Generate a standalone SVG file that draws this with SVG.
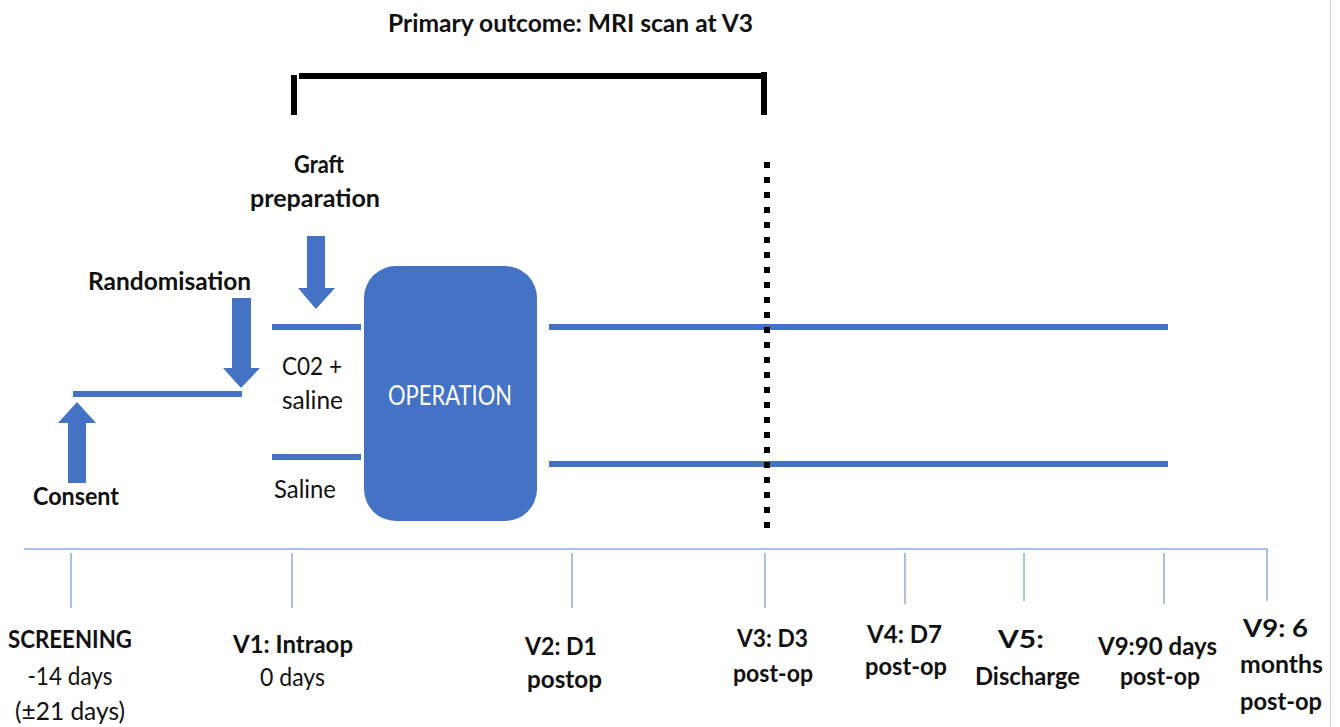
<svg xmlns="http://www.w3.org/2000/svg" width="1340" height="727" viewBox="0 0 1340 727">
<style>
.t{font-family:Lato,"Open Sans","Liberation Sans",sans-serif;font-size:25px;fill:#111;text-anchor:middle}
.b{font-weight:bold}
.blue{fill:#4472C4}
.arm{stroke:#4472C4;stroke-width:6;fill:none}
.axis{stroke:#A9C1E8;stroke-width:2;fill:none}
.brk{stroke:#000;stroke-width:6;fill:none}
</style>
<rect width="1340" height="727" fill="#fff"/>
<line x1="1330.5" y1="0" x2="1330.5" y2="727" stroke="#d0d0d0" stroke-width="1"/>

<g id="title">
<text class="t b" x="570.5" y="32" textLength="365" lengthAdjust="spacingAndGlyphs">Primary outcome: MRI scan at V3</text>
</g>
<g id="bracket">
<line class="brk" x1="294" y1="75" x2="294" y2="115"/>
<line class="brk" x1="299" y1="76" x2="767" y2="76"/>
<line class="brk" x1="764" y1="72" x2="764" y2="115"/>
</g>

<g id="connectors">
<line class="arm" x1="73" y1="394" x2="242" y2="394"/>
<line class="arm" x1="272" y1="327" x2="361" y2="327"/>
<line class="arm" x1="272" y1="457" x2="361" y2="457"/>
<line class="arm" x1="549" y1="327" x2="1168" y2="327"/>
<line class="arm" x1="549" y1="464" x2="1168" y2="464"/>
<line x1="767" y1="162" x2="767" y2="536" stroke="#000" stroke-width="6" stroke-dasharray="6 9"/>
</g>

<g id="consent">
<polygon class="blue" points="77,402 96,423 86,423 86,483 68,483 68,423 58,423"/>
<text class="t b" x="76" y="505" textLength="86" lengthAdjust="spacingAndGlyphs">Consent</text>
</g>
<g id="randomisation">
<polygon class="blue" points="232,298 251,298 251,368 260,368 241,388 223,368 232,368"/>
<text class="t b" x="169.5" y="290" textLength="163" lengthAdjust="spacingAndGlyphs">Randomisation</text>
</g>
<g id="graft">
<polygon class="blue" points="307,236 325,236 325,288 335,288 316,309 298,288 307,288"/>
<text class="t b" x="319" y="173" textLength="50" lengthAdjust="spacingAndGlyphs">Graft</text>
<text class="t b" x="315" y="207" textLength="130" lengthAdjust="spacingAndGlyphs">preparation</text>
</g>
<g id="arm-co2">
<text class="t" x="312" y="375" textLength="60" lengthAdjust="spacingAndGlyphs">C02 +</text>
<text class="t" x="312.5" y="409" textLength="61" lengthAdjust="spacingAndGlyphs">saline</text>
</g>
<g id="arm-saline">
<text class="t" x="305" y="498" textLength="62" lengthAdjust="spacingAndGlyphs">Saline</text>
</g>
<g id="operation">
<rect class="blue" x="364" y="266" width="173" height="255" rx="32" ry="32"/>
<text class="t" x="450" y="405" style="fill:#fff;font-size:26px" textLength="124" lengthAdjust="spacingAndGlyphs">OPERATION</text>
</g>

<g id="timeline">
<line class="axis" x1="24" y1="549" x2="1267" y2="549"/>
<line class="axis" x1="71" y1="553" x2="71" y2="608"/>
<line class="axis" x1="292" y1="553" x2="292" y2="608"/>
<line class="axis" x1="572" y1="553" x2="572" y2="608"/>
<line class="axis" x1="765" y1="553" x2="765" y2="608"/>
<line class="axis" x1="905" y1="553" x2="905" y2="604"/>
<line class="axis" x1="1024" y1="553" x2="1024" y2="601"/>
<line class="axis" x1="1164" y1="553" x2="1164" y2="604"/>
<line class="axis" x1="1267" y1="548" x2="1267" y2="601"/>
</g>

<g id="screening">
<text class="t b" x="70" y="648" textLength="124" lengthAdjust="spacingAndGlyphs">SCREENING</text>
<text class="t" x="70" y="685" textLength="85" lengthAdjust="spacingAndGlyphs">-14 days</text>
<text class="t" x="70" y="720" textLength="110" lengthAdjust="spacingAndGlyphs">(±21 days)</text>
</g>
<g id="v1">
<text class="t b" x="293" y="653" textLength="120" lengthAdjust="spacingAndGlyphs">V1: Intraop</text>
<text class="t" x="292.5" y="686" textLength="65" lengthAdjust="spacingAndGlyphs">0 days</text>
</g>
<g id="v2">
<text class="t b" x="561" y="655" textLength="72" lengthAdjust="spacingAndGlyphs">V2: D1</text>
<text class="t b" x="564.5" y="688" textLength="75" lengthAdjust="spacingAndGlyphs">postop</text>
</g>
<g id="v3">
<text class="t b" x="772.5" y="647" textLength="71" lengthAdjust="spacingAndGlyphs">V3: D3</text>
<text class="t b" x="773" y="682" textLength="80" lengthAdjust="spacingAndGlyphs">post-op</text>
</g>
<g id="v4">
<text class="t b" x="904.5" y="643" textLength="75" lengthAdjust="spacingAndGlyphs">V4: D7</text>
<text class="t b" x="906" y="675" textLength="82" lengthAdjust="spacingAndGlyphs">post-op</text>
</g>
<g id="v5">
<text class="t b" x="1021" y="648" textLength="46" lengthAdjust="spacingAndGlyphs">V5:</text>
<text class="t b" x="1027.5" y="685" textLength="105" lengthAdjust="spacingAndGlyphs">Discharge</text>
</g>
<g id="v9-90">
<text class="t b" x="1157.5" y="655" textLength="119" lengthAdjust="spacingAndGlyphs">V9:90 days</text>
<text class="t b" x="1160" y="685" textLength="80" lengthAdjust="spacingAndGlyphs">post-op</text>
</g>
<g id="v9-6m">
<text class="t b" x="1275.5" y="637" textLength="65" lengthAdjust="spacingAndGlyphs">V9: 6</text>
<text class="t b" x="1281.5" y="673" textLength="83" lengthAdjust="spacingAndGlyphs">months</text>
<text class="t b" x="1281" y="710" textLength="82" lengthAdjust="spacingAndGlyphs">post-op</text>
</g>
</svg>
